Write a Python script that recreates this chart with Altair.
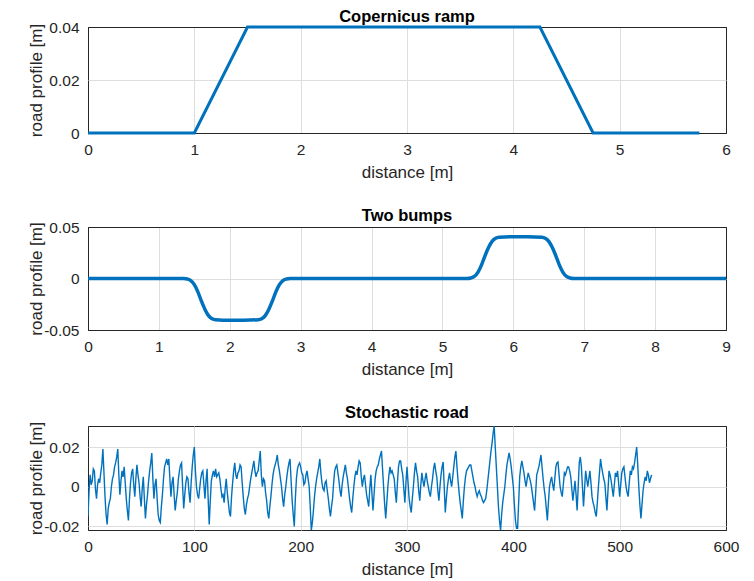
import altair as alt
import pandas as pd

# ---------------- data ----------------
ramp_x = [0, 1, 1.5, 4.25, 4.75, 5.75]
ramp_y = [0, 0, 0.04, 0.04, 0, 0]

bump_x = [0, 1.35, 1.4, 1.45, 1.5, 1.55, 1.6, 1.65, 1.7, 1.75, 1.8, 2.0, 2.2, 2.4,
          2.45, 2.5, 2.55, 2.6, 2.65, 2.7, 2.75, 2.8, 2.85, 5.35, 5.4, 5.45, 5.5,
          5.55, 5.6, 5.65, 5.7, 5.75, 5.8, 6.0, 6.2, 6.4, 6.45, 6.5, 6.55, 6.6,
          6.65, 6.7, 6.75, 6.8, 6.85, 9]
bump_y = [0, 0, -0.0005, -0.002, -0.006, -0.013, -0.022, -0.030, -0.036, -0.039,
          -0.040, -0.0405, -0.0405, -0.040, -0.039, -0.036, -0.030, -0.022, -0.013,
          -0.006, -0.002, -0.0005, 0, 0, 0.0005, 0.002, 0.006, 0.013, 0.022, 0.030,
          0.036, 0.039, 0.040, 0.0405, 0.0405, 0.040, 0.039, 0.036, 0.030, 0.022,
          0.013, 0.006, 0.002, 0.0005, 0, 0]

# stochastic road profile, read every 1 m (0 ... 530 m)
road_000 = [-0.015, -0.002, 0.006, 0.001, 0.003, 0.009, 0.008, -0.001, -0.006, 0.001,
            0.004, 0.002, 0.007, 0.011, 0.019, 0.007, -0.005, -0.014, -0.019, -0.011,
            -0.008, -0.006, 0.000, 0.004, 0.006, 0.010, 0.012, 0.015, 0.019, 0.006,
            -0.004, 0.003, 0.008, 0.005, 0.010, 0.002, -0.006, -0.012, -0.017, -0.006,
            0.002, 0.007, 0.009, 0.001, -0.005, 0.004, 0.011, 0.006, 0.002, -0.005,
            -0.010, -0.001, 0.005, -0.006, -0.016, -0.009, -0.004, 0.003, 0.008, 0.012,
            0.017, 0.004, -0.006, 0.001, 0.004, -0.006, -0.014, -0.017, -0.018, -0.010,
            -0.004, 0.004, 0.010, 0.012, 0.014, 0.011, 0.014, 0.004, -0.005, 0.002,
            0.005, -0.004, -0.012, -0.007, -0.003, 0.004, 0.008, 0.011, 0.012, 0.000,
            -0.011, -0.004, 0.002, 0.005, 0.004, -0.003, -0.008, 0.002, 0.010, 0.016]
road_100 = [0.020, 0.008, 0.000, -0.004, -0.006, -0.001, 0.004, 0.007, 0.008, 0.001,
            -0.006, 0.003, 0.009, -0.006, -0.019, -0.007, 0.003, 0.006, 0.008, 0.005,
            0.009, 0.005, 0.006, 0.007, 0.004, -0.001, -0.005, -0.004, -0.008, -0.001,
            0.004, -0.003, -0.008, -0.013, -0.015, -0.005, 0.002, 0.008, 0.012, 0.006,
            0.004, 0.007, 0.008, 0.011, 0.010, 0.002, -0.005, -0.011, -0.014, -0.009,
            -0.006, -0.004, 0.000, 0.004, 0.007, 0.010, 0.013, 0.008, 0.005, 0.007,
            0.008, 0.013, 0.018, 0.006, 0.000, 0.004, 0.003, -0.003, -0.007, -0.013,
            -0.016, -0.010, -0.005, 0.001, 0.006, 0.009, 0.011, 0.013, 0.016, 0.011,
            0.008, 0.004, 0.000, -0.006, -0.010, -0.004, 0.000, 0.005, 0.009, 0.012,
            0.014, 0.003, -0.007, -0.014, -0.020, -0.006, 0.004, 0.009, 0.011, 0.012]
road_200 = [0.010, 0.007, 0.006, 0.001, 0.002, 0.006, 0.008, 0.004, 0.000, -0.010,
            -0.022, -0.018, -0.012, -0.005, 0.000, 0.004, 0.007, 0.010, 0.014, 0.007,
            0.002, -0.001, -0.002, 0.002, 0.003, -0.002, -0.006, -0.011, -0.015, -0.010,
            -0.006, 0.002, 0.008, 0.010, 0.011, 0.007, 0.003, -0.002, -0.005, 0.001,
            0.005, 0.008, 0.011, 0.007, 0.004, -0.001, -0.006, -0.010, -0.013, -0.006,
            0.000, 0.005, 0.008, 0.006, 0.010, 0.013, 0.012, 0.005, 0.000, 0.004,
            0.006, 0.001, -0.004, -0.007, -0.010, -0.001, 0.006, -0.003, -0.012, -0.004,
            0.004, 0.008, 0.010, 0.011, 0.014, 0.016, 0.018, 0.009, 0.000, -0.009,
            -0.016, -0.008, 0.000, 0.006, 0.010, 0.007, 0.008, 0.006, 0.004, -0.003,
            -0.008, 0.002, 0.010, 0.013, 0.013, 0.009, 0.006, -0.001, -0.008, 0.002]
road_300 = [0.010, 0.002, -0.006, -0.010, -0.013, -0.006, 0.000, 0.007, 0.012, 0.008,
            0.005, -0.002, -0.007, 0.001, 0.007, 0.003, 0.000, 0.004, 0.007, 0.003,
            0.000, -0.003, -0.005, 0.000, 0.004, 0.009, 0.012, 0.008, 0.005, -0.002,
            -0.007, 0.000, 0.006, 0.010, 0.0125, 0.000, -0.013, -0.006, 0.000, 0.004,
            0.007, 0.003, 0.000, 0.005, 0.010, 0.015, 0.018, 0.010, 0.003, -0.003,
            -0.008, -0.012, -0.016, -0.007, 0.000, 0.005, 0.008, 0.009, 0.010, 0.011,
            0.011, 0.008, 0.005, 0.002, 0.000, -0.003, -0.005, -0.003, -0.002, -0.004,
            -0.005, -0.007, -0.008, -0.007, -0.006, -0.002, 0.003, 0.008, 0.013, 0.018,
            0.022, 0.027, 0.0305, 0.020, 0.010, 0.000, -0.010, -0.017, -0.022, -0.014,
            -0.008, -0.004, 0.000, 0.006, 0.011, 0.014, 0.017, 0.014, 0.010, 0.005]
road_400 = [0.000, -0.009, -0.017, -0.021, -0.021, -0.008, 0.005, 0.010, 0.013, 0.010,
            0.007, 0.003, 0.000, 0.004, 0.007, 0.005, 0.003, 0.000, -0.004, -0.008,
            -0.012, -0.003, 0.006, 0.008, 0.010, 0.013, 0.016, 0.010, 0.004, -0.001,
            -0.005, -0.011, -0.017, -0.008, 0.000, 0.003, 0.005, 0.001, -0.002, 0.004,
            0.010, 0.012, 0.0125, 0.006, 0.000, -0.003, -0.005, 0.001, 0.007, 0.006,
            0.008, 0.010, 0.010, 0.008, 0.005, -0.001, -0.007, -0.002, 0.003, -0.004,
            -0.012, 0.000, 0.012, 0.015, 0.010, 0.000, -0.010, -0.001, 0.008, 0.004,
            0.000, 0.004, 0.008, 0.002, -0.005, -0.008, -0.010, -0.013, -0.015, -0.008,
            0.000, 0.007, 0.014, 0.010, 0.007, 0.004, 0.002, -0.005, -0.012, -0.002,
            0.008, 0.006, 0.003, -0.001, -0.005, 0.001, 0.007, 0.005, 0.008, 0.002]
road_500 = [-0.005, 0.001, 0.007, 0.009, 0.010, 0.005, 0.000, -0.003, -0.005, 0.002,
            0.008, 0.006, 0.010, 0.009, 0.012, 0.016, 0.020, 0.011, 0.000, -0.009,
            -0.016, -0.009, -0.002, 0.002, 0.005, 0.003, 0.008, 0.006, 0.002, 0.004,
            0.006]

road_y = road_000 + road_100 + road_200 + road_300 + road_400 + road_500
road_x = list(range(len(road_y)))

ramp_df = pd.DataFrame({"d": ramp_x, "z": ramp_y})
bump_df = pd.DataFrame({"d": bump_x, "z": bump_y})
road_df = pd.DataFrame({"d": road_x, "z": road_y})

BLUE = "#0072BD"
FONT = "Liberation Sans"
TXT = "#262626"
GRID = "#dedede"
W = 638


def edge_color(lo, hi):
    return {"condition": {"test": f"datum.value == {lo} || datum.value == {hi}",
                          "value": TXT},
            "value": GRID}


def panel(df, title, xdom, xticks, ydom, yticks, height, sw, toff,
          interp="linear", clip=False):
    x = alt.X("d:Q",
              scale=alt.Scale(domain=xdom, nice=False, zero=False),
              axis=alt.Axis(values=xticks, title="distance [m]", labelFlush=False,
                            labelExpr="'' + datum.value",
                            gridColor=edge_color(xdom[0], xdom[1])))
    y = alt.Y("z:Q",
              scale=alt.Scale(domain=ydom, nice=False, zero=False),
              axis=alt.Axis(values=yticks, title="road profile [m]",
                            labelExpr="'' + datum.value", labelFlush=False,
                            gridColor=edge_color(ydom[0], ydom[1]),
                            titleX=-52, titleY=height / 2,
                            titleAngle=-90, titleBaseline="middle",
                            titleAlign="center"))
    return (alt.Chart(df)
            .mark_line(color=BLUE, strokeWidth=sw, interpolate=interp, clip=clip)
            .encode(x=x, y=y)
            .properties(width=W, height=height,
                        title=alt.TitleParams(title, fontSize=16.5, fontWeight="bold",
                                              font=FONT, color="#000000", offset=toff)))


p1 = panel(ramp_df, "Copernicus ramp", [0, 6], [0, 1, 2, 3, 4, 5, 6],
           [0, 0.04], [0, 0.02, 0.04], 106, 3, -5)
p2 = panel(bump_df, "Two bumps", [0, 9], list(range(10)),
           [-0.05, 0.05], [-0.05, 0, 0.05], 103, 3.5, -4, interp="monotone")
p3 = panel(road_df, "Stochastic road", [0, 600], [0, 100, 200, 300, 400, 500, 600],
           [-0.0218, 0.0306], [-0.02, 0, 0.02], 104, 1.4, 0, clip=True)

chart = (alt.vconcat(p1, p2, p3, spacing=26)
         .properties(padding={"left": 18, "top": 0, "right": 5, "bottom": 0},
                     background="white")
         .configure_view(stroke=TXT, strokeWidth=1)
         .configure_axis(grid=True, gridWidth=1,
                         domain=False, ticks=False, tickSize=0,
                         labelFont=FONT, labelFontSize=15.5, labelColor=TXT,
                         labelPadding=9, titleFont=FONT, titleFontSize=17,
                         titleFontWeight="normal", titleColor=TXT, titlePadding=7))

chart.save("out.html", embed_options={"renderer": "svg", "actions": False})
